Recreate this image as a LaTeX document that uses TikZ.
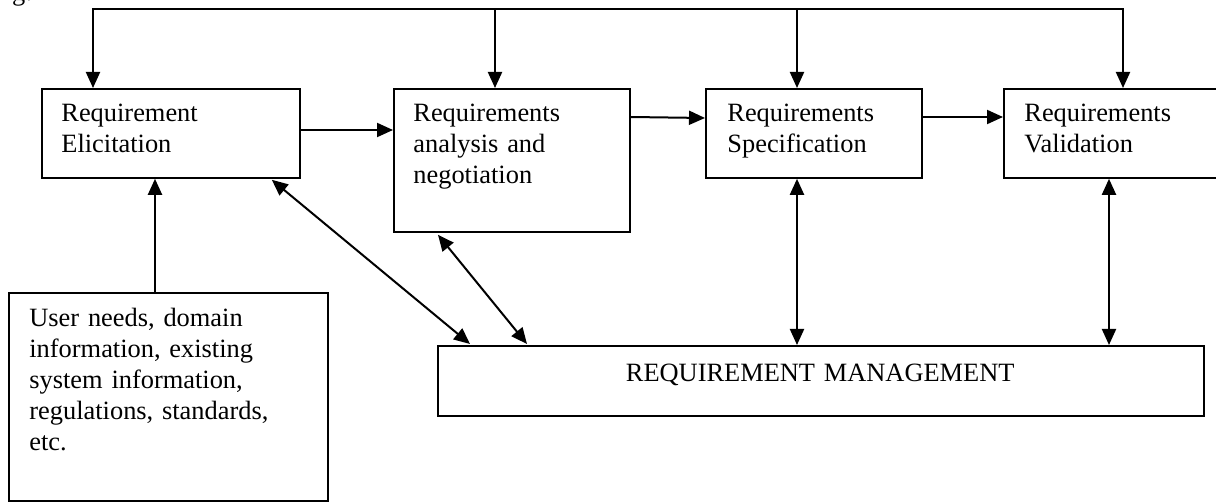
\documentclass[tikz,border=0pt]{standalone}
\usepackage{fontspec}
\setmainfont{Liberation Serif}
\usetikzlibrary{arrows.meta,calc}
\begin{document}
\begin{tikzpicture}[x=0.5pt,y=-0.5pt,
  box/.style={draw,line width=0.9pt,rectangle,inner sep=0pt,anchor=north west},
  lbl/.style={anchor=base west,inner sep=0pt,text width=250pt,align=left,font=\fontsize{13.2pt}{15.5pt}\selectfont},
  tip/.tip={Triangle[length=8pt,width=7pt]},
  arr/.style={line width=1pt,-tip},
  darr/.style={line width=1pt,tip-tip},
  ln/.style={line width=1pt}]
\useasboundingbox (0,0) rectangle (1216,502);
% fragment of caption text above the figure
\node[anchor=base east,inner sep=0pt,font=\fontsize{13.2pt}{15.5pt}\selectfont] (frag) at (33,1) {ing:};
% boxes
\node[box,minimum width=129pt,minimum height=44.5pt] (elic) at (41,88) {};
\node[box,minimum width=118pt,minimum height=71.5pt] (anal) at (393,88) {};
\node[box,minimum width=108pt,minimum height=44.5pt] (spec) at (705,88) {};
\node[box,minimum width=115pt,minimum height=44.5pt] (valid) at (1003,88) {};
\node[box,minimum width=159.5pt,minimum height=104pt] (src) at (8,292) {};
\node[box,minimum width=383pt,minimum height=35pt] (rm) at (437,345) {};
% texts
\node[lbl] (telic) at (61,122) {Requirement\\Elicitation};
\node[lbl] (tanal) at (413,122) {Requirements\\analysis and\\negotiation};
\node[lbl] (tspec) at (727,122) {Requirements\\Specification};
\node[lbl] (tvalid) at (1024,122) {Requirements\\Validation};
\node[lbl] (tsrc) at (29,327) {User needs, domain\\information, existing\\system information,\\regulations, standards,\\etc.};
\node[lbl] (trm) at (625.5,381) {REQUIREMENT MANAGEMENT};
% top feedback line
\coordinate (top1) at (93,9.5);
\coordinate (top2) at (495,9.5);
\coordinate (top3) at (797,9.5);
\coordinate (top4) at (1123,9.5);
\draw[arr] (top4) -- (top1) -- (top1 |- elic.north);
\draw[arr] (top3) -- (top4) -- (top4 |- valid.north);
\draw[arr] (top2) -- (top2 |- anal.north);
\draw[arr] (top3) -- (top3 |- spec.north);
% flow arrows
\draw[arr] ($(elic.north east)+(0,42)$) -- ($(anal.north west)+(0,42)$);
\draw[arr] ($(anal.north east)+(0,29)$) -- ($(spec.north west)+(0,30)$);
\draw[arr] ($(spec.north east)+(0,29)$) -- ($(valid.north west)+(0,29)$);
\draw[arr] ($(src.north west)+(147,0)$) -- ($(elic.south west)+(114,0)$);
% management links
\draw[darr] ($(elic.south east)+(-29,1)$) -- ($(rm.north west)+(33,-1)$);
\draw[darr] ($(anal.south west)+(45,2)$) -- ($(rm.north west)+(90,-1)$);
\draw[darr] (spec.south -| top3) -- (rm.north -| top3);
\draw[darr] ($(valid.south west)+(106,0)$) -- ($(rm.north west)+(672,0)$);
\end{tikzpicture}
\end{document}
